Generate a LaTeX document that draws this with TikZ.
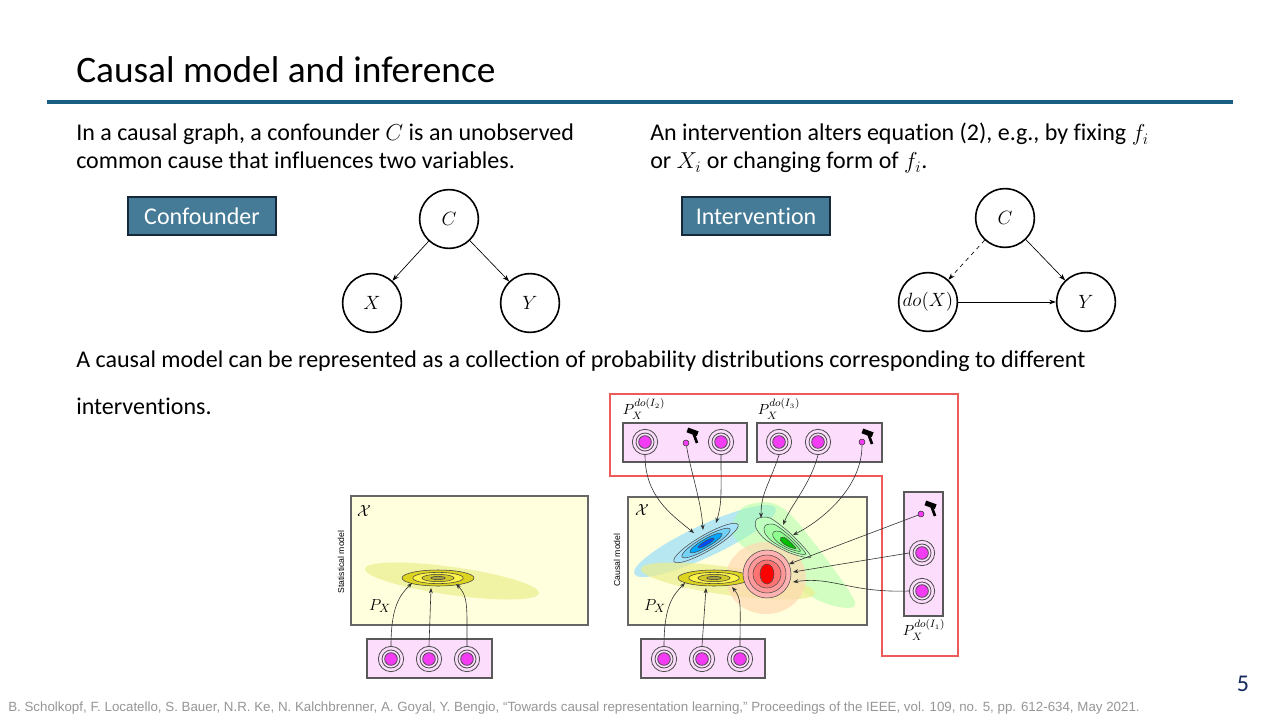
\documentclass[tikz,border=0pt]{standalone}
\usepackage{amsmath}
\usepackage{fontspec}
\setmainfont[Ligatures=NoCommon]{Carlito}
\newfontfamily\figfont{Liberation Sans}
\newfontfamily\citefont{Liberation Sans}
\usetikzlibrary{arrows.meta}
\definecolor{rulecol}{RGB}{26,94,130}
\definecolor{tagfill}{RGB}{69,123,150}
\definecolor{tagline}{RGB}{20,42,58}
\definecolor{panelfill}{RGB}{255,255,222}
\definecolor{boxfill}{RGB}{252,222,252}
\definecolor{corecol}{RGB}{245,60,245}
\definecolor{framered}{RGB}{238,90,90}
\definecolor{pagecol}{RGB}{20,40,95}
\definecolor{citecol}{RGB}{150,150,150}
\definecolor{paleyellow}{RGB}{236,238,140}
\tikzset{
  body/.style={anchor=base west, inner sep=0, font=\fontsize{18}{21}\selectfont},
  tag/.style={draw=tagline, line width=1.4pt, fill=tagfill, text=white, minimum width=111pt, minimum height=28pt, inner sep=0, font=\fontsize{18}{21}\selectfont},
  var/.style={circle, draw, line width=1.2pt, minimum size=44pt, inner sep=0, font=\fontsize{14}{16}\selectfont},
  causal/.style={-{Stealth[length=5pt,width=3.5pt]}, line width=0.5pt},
  panel/.style={draw=black!60, fill=panelfill, line width=0.8pt},
  unitbox/.style={draw=black!65, fill=boxfill, line width=0.8pt},
  ringout/.style={circle, draw=black!70, fill=boxfill, minimum size=19pt, inner sep=0, line width=0.6pt},
  ringmid/.style={circle, draw=black!70, fill=boxfill, minimum size=13.5pt, inner sep=0, line width=0.6pt},
  ringcore/.style={circle, draw=black!70, fill=corecol, minimum size=9.5pt, inner sep=0, line width=0.6pt},
  hitdot/.style={circle, draw=black!80, fill=corecol, minimum size=4.5pt, inner sep=0, line width=0.4pt},
  figarrow/.style={-{Stealth[length=4pt,width=3pt]}, line width=0.45pt, black!80},
  dist/.style={font=\fontsize{13}{15}\selectfont, inner sep=0},
  hammer/.pic={
    \fill[black, rotate=-20] (-6,-2.5) rectangle (5,2.5);
    \draw[black, line width=2pt] (0,0) -- (4,11);
  },
}
\begin{document}
\begin{tikzpicture}[x=0.75pt,y=-0.75pt]
  \useasboundingbox[fill=white] (0,0) rectangle (1280,720);
  % title
  \node[anchor=base west, inner sep=0, font=\fontsize{28}{33}\selectfont] (title) at (76,83) {Causal model and inference};
  \draw[rulecol, line width=3pt] (47,102) -- (1233,102);

  % left column
  \node[body] (confa) at (76,141) {In a causal graph, a confounder $C$ is an unobserved};
  \node[body] (confb) at (76,169) {common cause that influences two variables.};
  \node[tag] (conftag) at (202,216) {Confounder};
  \node[var] (c1) at (449,219) {$C$};
  \node[var] (x1) at (372,303) {$X$};
  \node[var] (y1) at (530,303) {$Y$};
  \draw[causal] (c1) -- (x1);
  \draw[causal] (c1) -- (y1);

  % right column
  \node[body] (inta) at (650,141) {An intervention alters equation (2), e.g., by fixing $f_i$};
  \node[body] (intb) at (650,169) {or $X_i$ or changing form of $f_i$.};
  \node[tag] (inttag) at (756,216) {Intervention};
  \node[var] (c2) at (1005,218) {$C$};
  \node[var, font=\fontsize{13.6}{15}\selectfont] (x2) at (928,302) {$do(X)$};
  \node[var] (y2) at (1086,302) {$Y$};
  \draw[causal, dashed] (c2) -- (x2);
  \draw[causal] (c2) -- (y2);
  \draw[causal] (x2) -- (y2);

  \node[body] (modela) at (76,367) {A causal model can be represented as a collection of probability distributions corresponding to different};
  \node[body] (modelb) at (76,414) {interventions.};

  % statistical model
  \draw[panel] (351,496) rectangle (588,625);
  \node[dist] (xl) at (364,511) {$\mathcal{X}$};
  \node[dist] (pxl) at (380,606) {$P_X$};
  \node[rotate=90, inner sep=0, font=\figfont\fontsize{6.5}{8}\selectfont] (statlab) at (341,562) {Statistical model};
  \fill[paleyellow, opacity=0.7] (452,581) ellipse [x radius=88, y radius=14, rotate=-8];
  \foreach \r/\c in {1/yellow!85!black, 0.7/yellow!70!white, 0.45/yellow!80!black, 0.2/yellow!60!black}
    \filldraw[fill=\c, draw=black!75, line width=0.4pt] (438,578) ellipse [x radius=36*\r, y radius=8*\r];
  \draw[unitbox] (367,639) rectangle (492,678);
  \foreach \n/\x in {l1/391, l2/429, l3/467} {
    \node[ringout] (\n) at (\x,659) {};
    \node[ringmid] at (\n) {};
    \node[ringcore] at (\n) {};
  }
  \coordinate (lt1) at (412,583);
  \coordinate (lt2) at (431,588);
  \coordinate (lt3) at (456,584);
  \draw[figarrow] (l1.north) .. controls +(0,-40) and +(-12,12) .. (lt1);
  \draw[figarrow] (l2.north) -- (lt2);
  \draw[figarrow] (l3.north) .. controls +(0,-40) and +(12,12) .. (lt3);

  % causal model
  \draw[panel] (628,497) rectangle (867,625);
  \node[dist] (xr) at (642,510) {$\mathcal{X}$};
  \node[dist] (pxr) at (655,606) {$P_X$};
  \node[rotate=90, inner sep=0, font=\figfont\fontsize{6.5}{8}\selectfont] (causlab) at (617,560) {Causal model};
  \fill[cyan!40!white, opacity=0.7] (705,541) ellipse [x radius=78, y radius=16, rotate=25];
  \fill[green!35!white, opacity=0.5] plot[smooth cycle] coordinates {(742,508) (772,503) (800,525) (855,602) (822,602) (770,568) (733,535)};
  \fill[paleyellow, opacity=0.7] (728,581) ellipse [x radius=88, y radius=14, rotate=-8];
  \fill[orange!30!white, opacity=0.7] (766,578) ellipse [x radius=40, y radius=36];
  \foreach \r/\c in {1/cyan!35!white, 0.75/cyan!55!white, 0.5/blue!35!cyan, 0.25/blue!70!cyan}
    \filldraw[fill=\c, draw=black!70, line width=0.4pt] (706,543) ellipse [x radius=37*\r, y radius=8*\r, rotate=30];
  \foreach \r/\c in {1/green!25!white, 0.75/green!35!white, 0.5/green!45!white, 0.28/green!75!black}
    \filldraw[fill=\c, draw=black!70, line width=0.4pt, scale around={\r:(790,545)}] plot[smooth cycle] coordinates {(757,519) (770,518) (792,535) (811,557) (790,553) (766,540) (756,528)};
  \foreach \r/\c in {1/yellow!85!black, 0.7/yellow!70!white, 0.45/yellow!80!black, 0.2/yellow!60!black}
    \filldraw[fill=\c, draw=black!75, line width=0.4pt] (714,578) ellipse [x radius=36*\r, y radius=8*\r];
  \foreach \r/\c in {24/red!30!white, 19/red!40!white, 14/red!55!white}
    \filldraw[fill=\c, draw=black!70, line width=0.4pt] (767,574) circle [radius=\r];
  \filldraw[fill=red, draw=black!70, line width=0.4pt] (767,574) ellipse [x radius=7, y radius=10];

  % units under the causal model
  \draw[unitbox] (641,639) rectangle (765,678);
  \foreach \n/\x in {b1/664, b2/702, b3/740} {
    \node[ringout] (\n) at (\x,659) {};
    \node[ringmid] at (\n) {};
    \node[ringcore] at (\n) {};
  }
  \coordinate (bt1) at (685,583);
  \coordinate (bt2) at (706,588);
  \coordinate (bt3) at (732,587);
  \draw[figarrow] (b1.north) .. controls +(0,-40) and +(-12,12) .. (bt1);
  \draw[figarrow] (b2.north) -- (bt2);
  \draw[figarrow] (b3.north) .. controls +(0,-40) and +(10,12) .. (bt3);

  % interventions
  \draw[framered, line width=1pt] (610,476) -- (610,394) -- (958,394) -- (958,656) -- (882,656) -- (882,476) -- cycle;
  \node[dist, font=\fontsize{11}{13}\selectfont] (pi2) at (644,409) {$P_X^{do(I_2)}$};
  \node[dist, font=\fontsize{11}{13}\selectfont] (pi3) at (779,409) {$P_X^{do(I_3)}$};
  \node[dist, font=\fontsize{11}{13}\selectfont] (pi1) at (924,630) {$P_X^{do(I_1)}$};
  \draw[unitbox] (623,423) rectangle (747,462);
  \draw[unitbox] (757,423) rectangle (882,462);
  \draw[unitbox] (904,492) rectangle (943,616);
  \foreach \n/\x/\y in {a1/645/442, a3/721/442, s1/779/442, s2/818/442, r2/922/553, r3/922/591} {
    \node[ringout] (\n) at (\x,\y) {};
    \node[ringmid] at (\n) {};
    \node[ringcore] at (\n) {};
  }
  \pic at (693,432) {hammer};
  \pic at (868,433) {hammer};
  \pic at (931,505) {hammer};
  \node[hitdot] (a2) at (686,443) {};
  \node[hitdot] (s3) at (862,442) {};
  \node[hitdot] (r1) at (921,514) {};

  \coordinate (at1) at (694,533);
  \coordinate (at2) at (703,530);
  \coordinate (at3) at (716,523);
  \coordinate (st1) at (761,518);
  \coordinate (st2) at (783,525);
  \coordinate (st3) at (793,535);
  \coordinate (rt1) at (789,564);
  \coordinate (rt2) at (793,572);
  \coordinate (rt3) at (793,582);
  \draw[figarrow] (a1.south) .. controls +(0,40) and +(-25,-20) .. (at1);
  \draw[figarrow] (a2) .. controls +(5,30) and +(-2,-30) .. (at2);
  \draw[figarrow] (a3.south) .. controls +(0,40) and +(6,-20) .. (at3);
  \draw[figarrow] (s1.south) .. controls +(-10,30) and +(0,-25) .. (st1);
  \draw[figarrow] (s2.south) .. controls +(-8,30) and +(8,-20) .. (st2);
  \draw[figarrow] (s3) .. controls +(0,45) and +(30,-15) .. (st3);
  \draw[figarrow] (r1) -- (rt1);
  \draw[figarrow] (r2.west) -- (rt2);
  \draw[figarrow] (r3.west) .. controls +(-60,2) and +(40,-6) .. (rt3);

  % footer
  \node[anchor=base west, inner sep=0, text=citecol, font=\citefont\fontsize{10}{12}\selectfont] (cite) at (8,711) {B. Scholkopf, F. Locatello, S. Bauer, N.R. Ke, N. Kalchbrenner, A. Goyal, Y. Bengio, “Towards causal representation learning,” Proceedings of the IEEE, vol. 109, no. 5, pp. 612-634, May 2021.};
  \node[anchor=base, inner sep=0, text=pagecol, font=\fontsize{18}{21}\selectfont] (page) at (1243,691) {5};
\end{tikzpicture}
\end{document}
